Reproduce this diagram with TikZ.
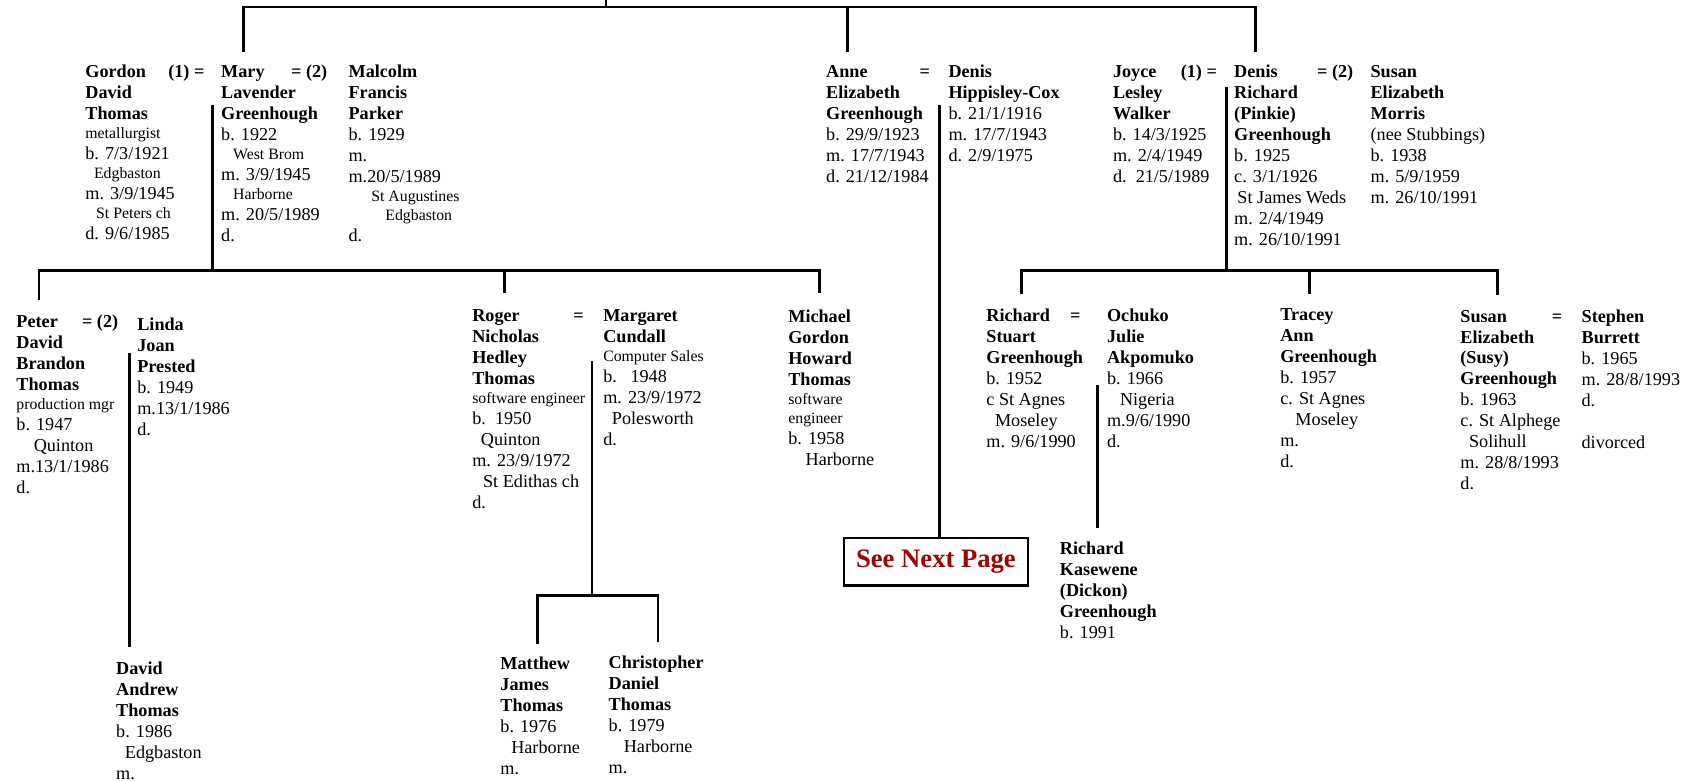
\documentclass[tikz,border=0pt]{standalone}
\usepackage{fontspec}
\setmainfont{Liberation Serif}
\usepackage{tikz}
\definecolor{nextred}{RGB}{160,0,0}
\newcommand{\nm}[1]{\textbf{#1}}
\newcommand{\sm}[1]{{\fontsize{7.3}{9.7}\selectfont #1}}
\newcommand{\wed}[3]{\makebox[#1][l]{\textbf{#2}\hfill\textbf{#3}}}

\begin{document}
\begin{tikzpicture}[x=0.5pt,y=-0.5pt,
  person/.style={anchor=north west,align=left,font=\fontsize{8.4}{9.7}\selectfont},
  famline/.style={black,line width=1.3pt},
  nextbox/.style={draw=black,line width=1.25pt,minimum width=85pt,minimum height=22pt,
    text=nextred,font=\fontsize{12.3}{14}\selectfont\bfseries}]
\tikzstyle{every node}+=[inner sep=0pt]
\useasboundingbox (0,0) rectangle (1568,721.6);
% first generation
\node[person] (gordon) at (78.5,60) {\wed{55pt}{Gordon}{(1) =}\\\nm{David}\\\nm{Thomas}\\[-1pt]\sm{metallurgist}\\b. 7/3/1921\\[-1pt]\sm{\hspace*{4pt}Edgbaston}\\m. 3/9/1945\\[-1pt]\sm{\hspace*{5pt}St Peters ch}\\d. 9/6/1985};
\node[person] (mary) at (204,60) {\wed{49pt}{Mary}{= (2)}\\\nm{Lavender}\\\nm{Greenhough}\\b. 1922\\[-1pt]\sm{\hspace*{5.5pt}West Brom}\\m. 3/9/1945\\[-1pt]\sm{\hspace*{5.5pt}Harborne}\\m. 20/5/1989\\d.};
\node[person] (malcolm) at (321.7,60) {\nm{Malcolm}\\\nm{Francis}\\\nm{Parker}\\b. 1929\\m.\\m.20/5/1989\\[-1pt]\sm{\hspace*{10.5pt}St Augustines}\\[-1pt]\sm{\hspace*{17pt}Edgbaston}\\d.};
\node[person] (anne) at (763,60) {\wed{48pt}{Anne}{=}\\\nm{Elizabeth}\\\nm{Greenhough}\\b. 29/9/1923\\m. 17/7/1943\\d. 21/12/1984};
\node[person] (denisH) at (876,60) {\nm{Denis}\\\nm{Hippisley-Cox}\\b. 21/1/1916\\m. 17/7/1943\\d. 2/9/1975};
\node[person] (joyce) at (1028,60) {\wed{48pt}{Joyce}{(1) =}\\\nm{Lesley}\\\nm{Walker}\\b. 14/3/1925\\m. 2/4/1949\\d.\ \ 21/5/1989};
\node[person] (denisR) at (1140,60) {\wed{55pt}{Denis}{= (2)}\\\nm{Richard}\\\nm{(Pinkie)}\\\nm{Greenhough}\\b. 1925\\c. 3/1/1926\\\hspace*{1.5pt}St James Weds\\m. 2/4/1949\\m. 26/10/1991};
\node[person] (susanM) at (1266,60) {\nm{Susan}\\\nm{Elizabeth}\\\nm{Morris}\\(nee Stubbings)\\b. 1938\\m. 5/9/1959\\m. 26/10/1991};
% second generation
\node[person] (peter) at (14.8,291) {\wed{47pt}{Peter}{= (2)}\\\nm{David}\\\nm{Brandon}\\\nm{Thomas}\\[-1pt]\sm{production mgr}\\b. 1947\\\hspace*{8pt}Quinton\\m.13/1/1986\\d.};
\node[person] (linda) at (126.5,293) {\nm{Linda}\\\nm{Joan}\\\nm{Prested}\\b. 1949\\m.13/1/1986\\d.};
\node[person] (roger) at (436,286) {\wed{51.5pt}{Roger}{=}\\\nm{Nicholas}\\\nm{Hedley}\\\nm{Thomas}\\[-1pt]\sm{software engineer}\\b.\ \ 1950\\\hspace*{4pt}Quinton\\m. 23/9/1972\\\hspace*{5pt}St Edithas ch\\d.};
\node[person] (margaret) at (557,286) {\nm{Margaret}\\\nm{Cundall}\\[-1pt]\sm{Computer Sales}\\b.\ \ \ 1948\\m. 23/9/1972\\\hspace*{4pt}Polesworth\\d.};
\node[person] (michael) at (728,286) {\nm{Michael}\\\nm{Gordon}\\\nm{Howard}\\\nm{Thomas}\\[-1pt]\sm{software}\\[-1pt]\sm{engineer}\\b. 1958\\\hspace*{8pt}Harborne};
\node[person] (richardS) at (911,285) {\wed{43.5pt}{Richard}{=}\\\nm{Stuart}\\\nm{Greenhough}\\b. 1952\\c St Agnes\\\hspace*{4pt}Moseley\\m. 9/6/1990};
\node[person] (ochuko) at (1022.5,285) {\nm{Ochuko}\\\nm{Julie}\\\nm{Akpomuko}\\b. 1966\\\hspace*{6pt}Nigeria\\m.9/6/1990\\d.};
\node[person] (tracey) at (1182.6,285) {\nm{Tracey}\\\nm{Ann}\\\nm{Greenhough}\\b. 1957\\c. St Agnes\\\hspace*{7pt}Moseley\\m.\\d.};
\node[person] (susy) at (1349,286) {\wed{47pt}{Susan}{=}\\\nm{Elizabeth}\\\nm{(Susy)}\\\nm{Greenhough}\\b. 1963\\c. St Alphege\\\hspace*{4pt}Solihull\\m. 28/8/1993\\d.};
\node[person] (stephen) at (1461,286) {\nm{Stephen}\\\nm{Burrett}\\b. 1965\\m. 28/8/1993\\d.\\[9.7pt]divorced};
% third generation
\node[person] (davidA) at (107,611) {\nm{David}\\\nm{Andrew}\\\nm{Thomas}\\b. 1986\\\hspace*{4pt}Edgbaston\\m.};
\node[person] (matthew) at (462,607) {\nm{Matthew}\\\nm{James}\\\nm{Thomas}\\b. 1976\\\hspace*{5pt}Harborne\\m.};
\node[person] (christopher) at (562,606) {\nm{Christopher}\\\nm{Daniel}\\\nm{Thomas}\\b. 1979\\\hspace*{7pt}Harborne\\m.};
\node[person] (dickon) at (979,500) {\nm{Richard}\\\nm{Kasewene}\\\nm{(Dickon)}\\\nm{Greenhough}\\b. 1991};
\node[nextbox] (nextpage) at (864.8,519.2) {See Next Page};
% top bar
\coordinate (top) at (560,0);
\coordinate (topL) at (225,6.5);
\coordinate (topM) at (783,6.5);
\coordinate (topR) at (1160,6.5);
\draw[famline] (top) -- (top |- topL);
\draw[famline,shorten <=6pt,shorten >=6pt] (topL |- mary.north) |- (topR) -- (topR |- denisR.north);
\draw[famline,shorten >=6pt] (topM) -- (topM |- anne.north);
% Thomas family
\coordinate (gm) at (196.6,97);
\coordinate (tL) at (36,250);
\coordinate (tM) at (466,250);
\coordinate (tR) at (757,250);
\draw[famline] (gm) -- (gm |- tL);
\draw[famline,shorten <=7pt,shorten >=7.5pt] (tL |- peter.north) |- (tR) -- (tR |- michael.north);
\draw[famline,shorten >=7.5pt] (tM) -- (tM |- roger.north);
\coordinate (pl) at (120,326);
\draw[famline,shorten >=6.5pt] (pl) -- (pl |- davidA.north);
\coordinate (rm) at (547,334);
\coordinate (kL) at (497,550);
\coordinate (kR) at (608,550);
\draw[famline] (rm) -- (rm |- kL);
\draw[famline,shorten <=6pt,shorten >=6.5pt] (kL |- matthew.north) |- (kR) -- (kR |- christopher.north);
% Hippisley-Cox
\coordinate (ad) at (868,97);
\draw[famline] (ad) -- (ad |- nextpage.north);
% Greenhough family
\coordinate (jd) at (1133,80);
\coordinate (gL) at (944,250);
\coordinate (gM) at (1210,250);
\coordinate (gR) at (1384,250);
\draw[famline] (jd) -- (jd |- gL);
\draw[famline,shorten <=6.5pt,shorten >=6.5pt] (gL |- richardS.north) |- (gR) -- (gR |- susy.north);
\draw[famline,shorten >=6.5pt] (gM) -- (gM |- tracey.north);
\coordinate (ro) at (1014,356);
\draw[famline,shorten >=6pt] (ro) -- (ro |- dickon.north);
\end{tikzpicture}
\end{document}
